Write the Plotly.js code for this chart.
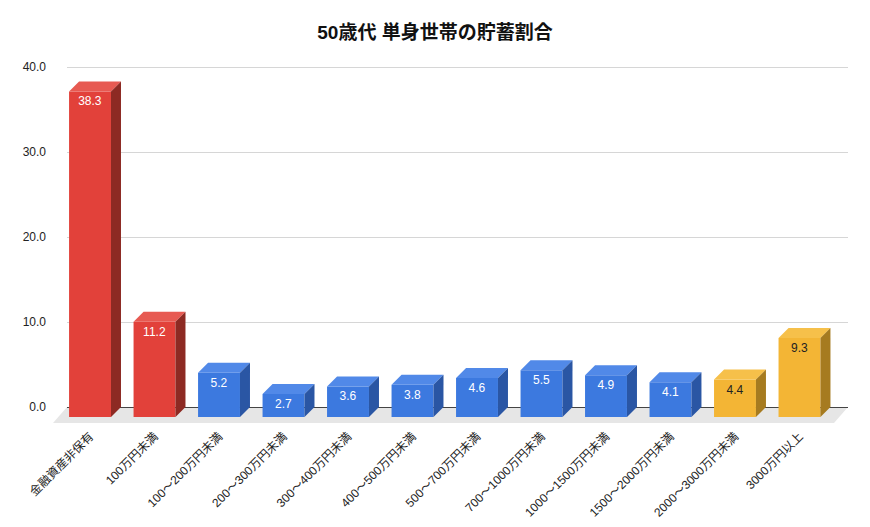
<!DOCTYPE html>
<html>
<head>
<meta charset="utf-8">
<script src="https://cdn.plot.ly/plotly-3.0.1.min.js"></script>
<style>
  html, body { margin: 0; padding: 0; background: #fff; }
  #chart { width: 870px; height: 527px; }
</style>
</head>
<body>
<div id="chart"></div>
<script>
// data
var categories = ['金融資産非保有', '100万円未満', '100〜200万円未満', '200〜300万円未満',
  '300〜400万円未満', '400〜500万円未満', '500〜700万円未満', '700〜1000万円未満',
  '1000〜1500万円未満', '1500〜2000万円未満', '2000〜3000万円未満', '3000万円以上'];
var values = [38.3, 11.2, 5.2, 2.7, 3.6, 3.8, 4.6, 5.5, 4.9, 4.1, 4.4, 9.3];
var groups = ['r', 'r', 'b', 'b', 'b', 'b', 'b', 'b', 'b', 'b', 'y', 'y'];
var yTicks = [0, 10, 20, 30, 40];

// colours of the three faces per group
var front = {r: '#E2413A', b: '#3C79DF', y: '#F3B535'};
var top_ = {r: '#E75A52', b: '#5189E8', y: '#F6C04A'};
var side = {r: '#8D2A23', b: '#2A56A4', y: '#A67B20'};
var labelCol = {r: '#ffffff', b: '#ffffff', y: '#222222'};

// axis geometry: 8.5 px per unit vertically, 64.5 px per category
var xRange = [-0.357, 11.752];
var yRange = [-2.235, 40.12];
var barW = 0.65;
var depthX = 10 / 64.5, depthY = 10 / 8.5;   // 3d depth offset
var base = -depthY;                            // front face sits in front of the back plane

var xs = categories.map(function (c, i) { return i; });

var trace = {
  type: 'bar',
  x: xs,
  y: values,
  base: base,
  width: barW,
  marker: {color: groups.map(function (g) { return front[g]; }), line: {width: 0}},
  text: values.map(function (v) { return v.toFixed(1); }),
  textposition: 'inside',
  insidetextanchor: 'end',
  textangle: 0,
  insidetextfont: {family: 'Liberation Sans, Arial, sans-serif', size: 12,
    color: groups.map(function (g) { return labelCol[g]; })},
  hoverinfo: 'skip',
  cliponaxis: false
};

function poly(pts) {
  return 'M' + pts.map(function (p) { return p[0] + ',' + p[1]; }).join('L') + 'Z';
}

var shapes = [];
// floor (in domain units so it can reach outside the plot area)
var yd0 = (0 - yRange[0]) / (yRange[1] - yRange[0]);
var floorDx = -14 / 781, floorDy = 16 / 360;
shapes.push({
  type: 'path', xref: 'x domain', yref: 'y domain', layer: 'below',
  path: poly([[0, yd0], [1, yd0], [1 + floorDx, yd0 - floorDy], [floorDx, yd0 - floorDy]]),
  fillcolor: '#e6e6e6', line: {width: 0}
});

values.forEach(function (v, i) {
  var g = groups[i];
  var x0 = xs[i] - barW / 2, x1 = xs[i] + barW / 2;
  var yb = base, yt = base + v;
  shapes.push({
    type: 'path', xref: 'x', yref: 'y', layer: 'above',
    path: poly([[x0, yt], [x1, yt], [x1 + depthX, yt + depthY], [x0 + depthX, yt + depthY]]),
    fillcolor: top_[g], line: {width: 0}
  });
  shapes.push({
    type: 'path', xref: 'x', yref: 'y', layer: 'above',
    path: poly([[x1, yb], [x1, yt], [x1 + depthX, yt + depthY], [x1 + depthX, yb + depthY]]),
    fillcolor: side[g], line: {width: 0}
  });
});

var layout = {
  width: 870,
  height: 527,
  margin: {l: 67, r: 22, t: 66, b: 101, pad: 0},
  paper_bgcolor: '#ffffff',
  plot_bgcolor: '#ffffff',
  showlegend: false,
  font: {family: 'Liberation Sans, Noto Sans CJK JP, sans-serif', color: '#222222'},
  title: {
    text: '<b>50歳代 単身世帯の貯蓄割合</b>',
    font: {family: 'Liberation Sans, Noto Sans CJK JP, sans-serif', size: 19, color: '#111111'},
    x: 0.5, xanchor: 'center', y: 0.938, yanchor: 'middle'
  },
  xaxis: {
    range: xRange,
    tickvals: xs,
    ticktext: categories,
    tickangle: -45,
    tickfont: {family: 'Liberation Sans, Noto Sans CJK JP, sans-serif', size: 12, color: '#222222'},
    showgrid: false,
    zeroline: false,
    showline: false,
    ticks: '',
    fixedrange: true
  },
  yaxis: {
    range: yRange,
    tickvals: yTicks,
    ticktext: yTicks.map(function (t) { return t.toFixed(1); }),
    tickfont: {family: 'Liberation Sans, Arial, sans-serif', size: 12, color: '#222222'},
    ticklabelstandoff: 20,
    showgrid: true,
    gridcolor: '#d6d6d6',
    gridwidth: 1,
    zeroline: true,
    zerolinecolor: '#444444',
    zerolinewidth: 1,
    showline: false,
    ticks: '',
    fixedrange: true
  },
  shapes: shapes
};

Plotly.newPlot('chart', [trace], layout, {displayModeBar: false, staticPlot: true});
</script>
</body>
</html>
